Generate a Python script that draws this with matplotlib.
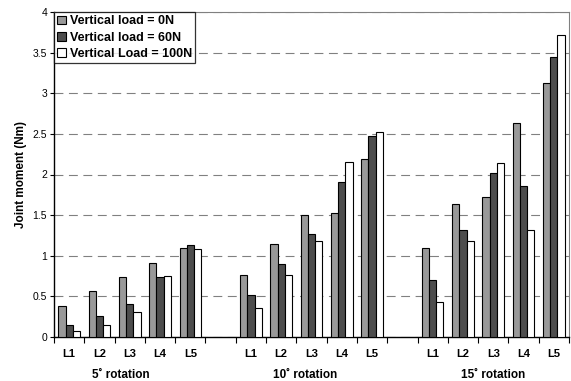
import numpy as np
import matplotlib
matplotlib.use("Agg")
import matplotlib.pyplot as plt

plt.rcParams['font.family'] = ['Liberation Sans', 'DejaVu Sans']

levels = ["L1", "L2", "L3", "L4", "L5"]
groups = ["5˚ rotation", "10˚ rotation", "15˚ rotation"]
series_names = ["Vertical load = 0N", "Vertical load = 60N", "Vertical Load = 100N"]

load_0N = [0.38, 0.56, 0.74, 0.91, 1.09,
           0.765, 1.14, 1.50, 1.53, 2.19,
           1.09, 1.64, 1.72, 2.64, 3.13]
load_60N = [0.15, 0.255, 0.40, 0.73, 1.13,
            0.51, 0.90, 1.27, 1.91, 2.475,
            0.695, 1.32, 2.02, 1.86, 3.445]
load_100N = [0.066, 0.15, 0.31, 0.745, 1.08,
             0.35, 0.757, 1.18, 2.16, 2.52,
             0.43, 1.18, 2.14, 1.31, 3.72]

colors = ["#999999", "#4d4d4d", "#ffffff"]
series = [load_0N, load_60N, load_100N]

# slot positions: 5 levels + 1 empty slot per group (last group has no trailing gap)
positions = []
for g in range(len(groups)):
    for i in range(len(levels)):
        positions.append(g * (len(levels) + 1) + i)
positions = np.array(positions)
n_slots = len(groups) * (len(levels) + 1) - 1

fig = plt.figure(figsize=(5.71, 3.81), dpi=100)
ax = fig.add_axes([54/571, 44.3/381, (569-54)/571, (336.7-12.3)/381])

bw = 0.238
for k, (vals, c, name) in enumerate(zip(series, colors, series_names)):
    ax.bar(positions + (k - 1) * bw, vals, width=bw, color=c, edgecolor="black",
           linewidth=0.8, label=name, zorder=3)

ax.set_xlim(-0.5, n_slots - 0.5)
ax.set_ylim(0, 4)
yt = np.arange(0, 4.01, 0.5)
ax.set_yticks(yt)
ax.set_yticklabels([("%g" % v) for v in yt], fontsize=7.5)
ax.yaxis.grid(True, linestyle=(0, (8, 5)), color="#808080", linewidth=0.8, zorder=0)

ax.set_xticks(positions)
ax.set_xticklabels(levels * len(groups), fontsize=8, fontweight="bold")
ax.tick_params(axis="x", which="major", length=0, pad=9)
ax.set_xticks(np.arange(-0.5, n_slots, 1.0), minor=True)
ax.tick_params(axis="x", which="minor", length=4, direction="out", width=0.8)
ax.tick_params(axis="y", length=3, width=0.8, pad=2)

for s in ["top", "right"]:
    ax.spines[s].set_color("#808080")
    ax.spines[s].set_linewidth(0.8)
for s in ["left", "bottom"]:
    ax.spines[s].set_linewidth(1.0)

ax.set_ylabel("Joint moment (Nm)", fontsize=8.5, fontweight="bold", labelpad=4)

group_x = [1.7, 7.8, 14.0]
for gx, gname in zip(group_x, groups):
    ax.text(gx, -0.1, gname, transform=ax.get_xaxis_transform(), ha="center",
            va="top", fontsize=8.5, fontweight="bold")

leg = ax.legend(loc="upper left", bbox_to_anchor=(0.0, 1.0),
                prop={"weight": "bold", "size": 9}, frameon=True, fancybox=False,
                borderpad=0.25, handlelength=0.7, handleheight=0.7, handletextpad=0.3,
                labelspacing=0.35, borderaxespad=0.0)
leg.get_frame().set_edgecolor("black")
leg.get_frame().set_linewidth(0.9)
leg.set_zorder(5)

fig.savefig("out.png", dpi=100)
